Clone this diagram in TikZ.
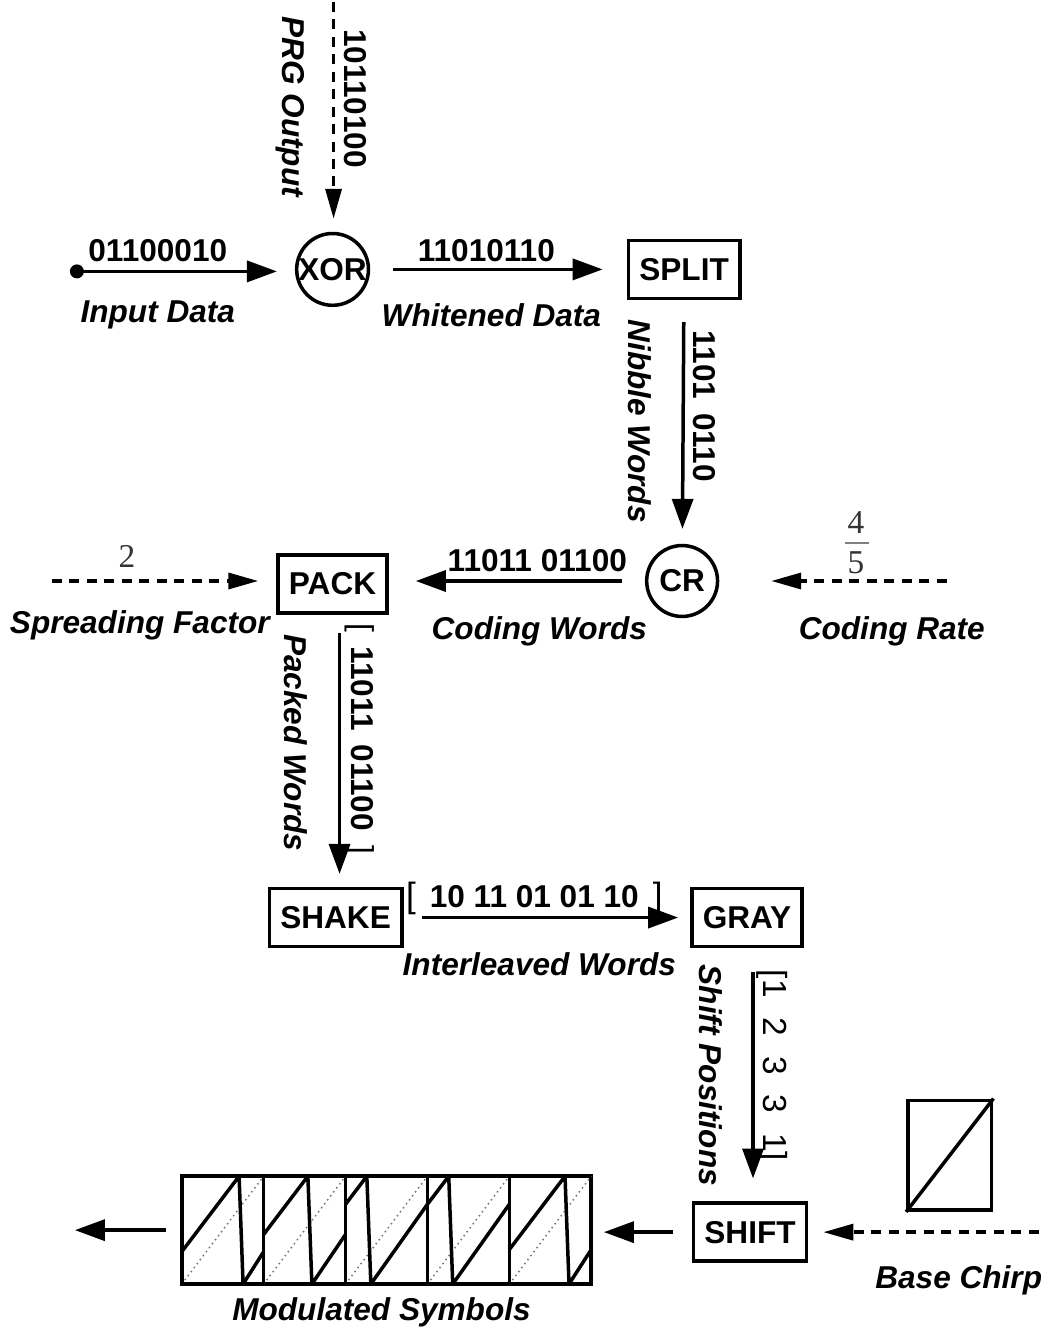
\documentclass[tikz,border=0pt]{standalone}
\usepackage{fontspec}
\setmainfont{Liberation Sans}
\newfontfamily\numfont{Liberation Serif}
\usetikzlibrary{arrows.meta}

\begin{document}
\begin{tikzpicture}[x=0.02cm, y=-0.02cm,
    execute at begin picture={\fontsize{18}{21}\selectfont},
    block/.style={draw, line width=0.07cm, minimum height=1.16cm,
      inner xsep=0.22cm, font=\bfseries},
    op/.style={circle, draw, line width=0.07cm, minimum size=1.42cm,
      inner sep=0pt, font=\bfseries},
    flow/.style={line width=0.07cm, -{Triangle[length=0.6cm, width=0.42cm]}},
    feed/.style={flow, -{Triangle[length=0.6cm, width=0.32cm]},
      dash pattern=on 0.2cm off 0.15cm},
    bits/.style={font=\bfseries, inner sep=0pt},
    tag/.style={font=\bfseries\itshape, inner sep=0pt},
    param/.style={font=\numfont\fontsize{19}{21}\selectfont, black!80, inner sep=0pt},
    chirpline/.style={line width=0.07cm, line join=round}]

  % Layout (pixel grid of the figure, y downwards):
  %   row 1: y = 268  (input -> XOR -> SPLIT)
  %   row 2: y = 580  (PACK <- CR)
  %   row 3: y = 917  (SHAKE -> GRAY)
  %   row 4: y = 1232 (symbols <- SHIFT)

  % --- Blocks ---
  \node[op]    (xor)   at (333,268)  {XOR};
  \node[block] (split) at (685,268)  {SPLIT};
  \node[op]    (cr)    at (683,580)  {CR};
  \node[block] (pack)  at (333,583)  {PACK};
  \node[block] (shake) at (336,917)  {SHAKE};
  \node[block] (gray)  at (748,917)  {GRAY};
  \node[block] (shift) at (751,1232) {SHIFT};

  % --- Free ends ---
  \node[circle, fill, inner sep=0pt, minimum size=0.28cm] (src) at (77,270) {};
  \coordinate (prg)     at (334,0);
  \coordinate (rate)    at (948,580);
  \coordinate (sf)      at (52,580);
  \coordinate (chirpin) at (1040,1232);
  \coordinate (out)     at (75,1230);

  % --- Connectors ---
  \draw[flow, shorten >=0.36cm] (src.center) -- (src -| xor.west);
  \draw[feed, shorten >=0.26cm] (prg) -- (prg |- xor.north);
  \draw[flow, shorten <=0.46cm, shorten >=0.48cm] (xor) -- (split);
  \draw[flow, shorten <=0.44cm, shorten >=0.3cm] (split) -- (cr);
  \draw[feed, shorten >=1.04cm] (rate) -- (cr);
  \draw[flow, shorten <=0.46cm, shorten >=0.54cm] (cr) -- (cr -| pack.east);
  \draw[feed, shorten >=0.36cm] (sf) -- (sf -| pack.west);
  \draw[flow, shorten <=0.36cm, shorten >=0.26cm]
    ([xshift=0.14cm]pack.south) -- ([xshift=0.14cm]pack.south |- shake.north);
  \draw[flow, shorten <=0.36cm, shorten >=0.24cm] (shake) -- (gray);
  \draw[flow, shorten <=0.48cm, shorten >=0.46cm]
    ([xshift=0.12cm]gray.south) -- ([xshift=0.12cm]gray.south |- shift.north);
  \draw[feed, shorten >=0.3cm] (chirpin) -- (chirpin -| shift.east);

  % --- Modulated symbols (shifts 1 2 3 3 1, as start height of each chirp) ---
  \node[draw, line width=0.07cm, minimum width=8.2cm, minimum height=2.16cm,
    inner sep=0pt] (symbols) at (387,1230) {};
  \foreach \f [count=\i from 0] in {0.3,0.46,0.74,0.74,0.32}{
    \pgfmathsetmacro\xa{182+82*\i}
    \pgfmathsetmacro\xb{\xa+82}
    \pgfmathsetmacro\xt{\xa+82*(1-\f)}
    \pgfmathsetmacro\yf{1284-108*\f}
    \draw[black!55, dotted, line width=0.03cm] (\xa,1284) -- (\xb,1176);
    \draw[chirpline] (\xa,\yf) -- (\xt,1176) -- (\xt+4,1284) -- (\xb,\yf);
    \draw[line width=0.07cm] (\xa,1176) -- (\xa,1284);
  }
  \draw[flow, shorten <=0.38cm, shorten >=0.22cm]
    (shift.west) -- (shift.west -| symbols.east);
  \draw[flow, shorten <=0.28cm] (symbols.west) -- (out);

  % --- Base chirp ---
  \node[draw, line width=0.07cm, minimum width=1.68cm, minimum height=2.2cm,
    inner sep=0pt] (chirp) at (951,1155) {};
  \draw[chirpline] (chirp.south west) -- (chirp.north east);

  % === Labels ===
  \node[bits] (inbits)  at (158,249) {01100010};
  \node[tag]  (intag)   at (158,314) {Input Data};
  \node[bits, rotate=-90] (prgbits) at (356,97)  {10110100};
  \node[tag,  rotate=-90] (prgtag)  at (291,105) {PRG Output};
  \node[bits] (whbits)  at (487,249) {11010110};
  \node[tag]  (whtag)   at (492,314) {Whitened Data};
  \node[bits, rotate=-90] (nibbits) at (705,405) {1101 \,0110};
  \node[tag,  rotate=-90] (nibtag)  at (641,420) {Nibble Words};
  \node[bits] (cwbits)  at (538,560) {11011 01100};
  \node[tag]  (cwtag)   at (540,630) {Coding Words};
  \node[tag]  (crtag)   at (893,630) {Coding Rate};
  \node[param] (crnum)  at (857,521) {4};
  \node[param] (crden)  at (857,562) {5};
  \draw[gray, line width=0.04cm] (846,542) -- (870,542);
  \node[param] (sfval)  at (127,555) {2};
  \node[tag]  (sftag)   at (140,624) {Spreading Factor};
  \node[bits, rotate=-90] (pkbits) at (360,738)
    {{\mdseries[}\, 11011 \,01100 \,{\mdseries]}};
  \node[tag,  rotate=-90] (pktag)  at (296,742) {Packed Words};
  \node[bits] (ilbits)  at (535,898)
    {{\mdseries\fontsize{20}{21}\selectfont[}\, 10 11 01 01 10 \,{\mdseries\fontsize{20}{21}\selectfont]}};
  \node[tag]  (iltag)   at (540,964) {Interleaved Words};
  \node[inner sep=0pt, rotate=-90, font=\fontsize{19}{21}\selectfont] (shbits) at (773,1065)
    {[1\hspace{0.6em}2\hspace{0.6em}3\hspace{0.6em}3\hspace{0.6em}1]};
  \node[tag,  rotate=-90] (shtag)  at (712,1075) {Shift Positions};
  \node[tag]  (bctag)   at (960,1280) {Base Chirp};
  \node[tag]  (mstag)   at (382,1312) {Modulated Symbols};

  \useasboundingbox (0,0) rectangle (1050,1333);
\end{tikzpicture}
\end{document}
